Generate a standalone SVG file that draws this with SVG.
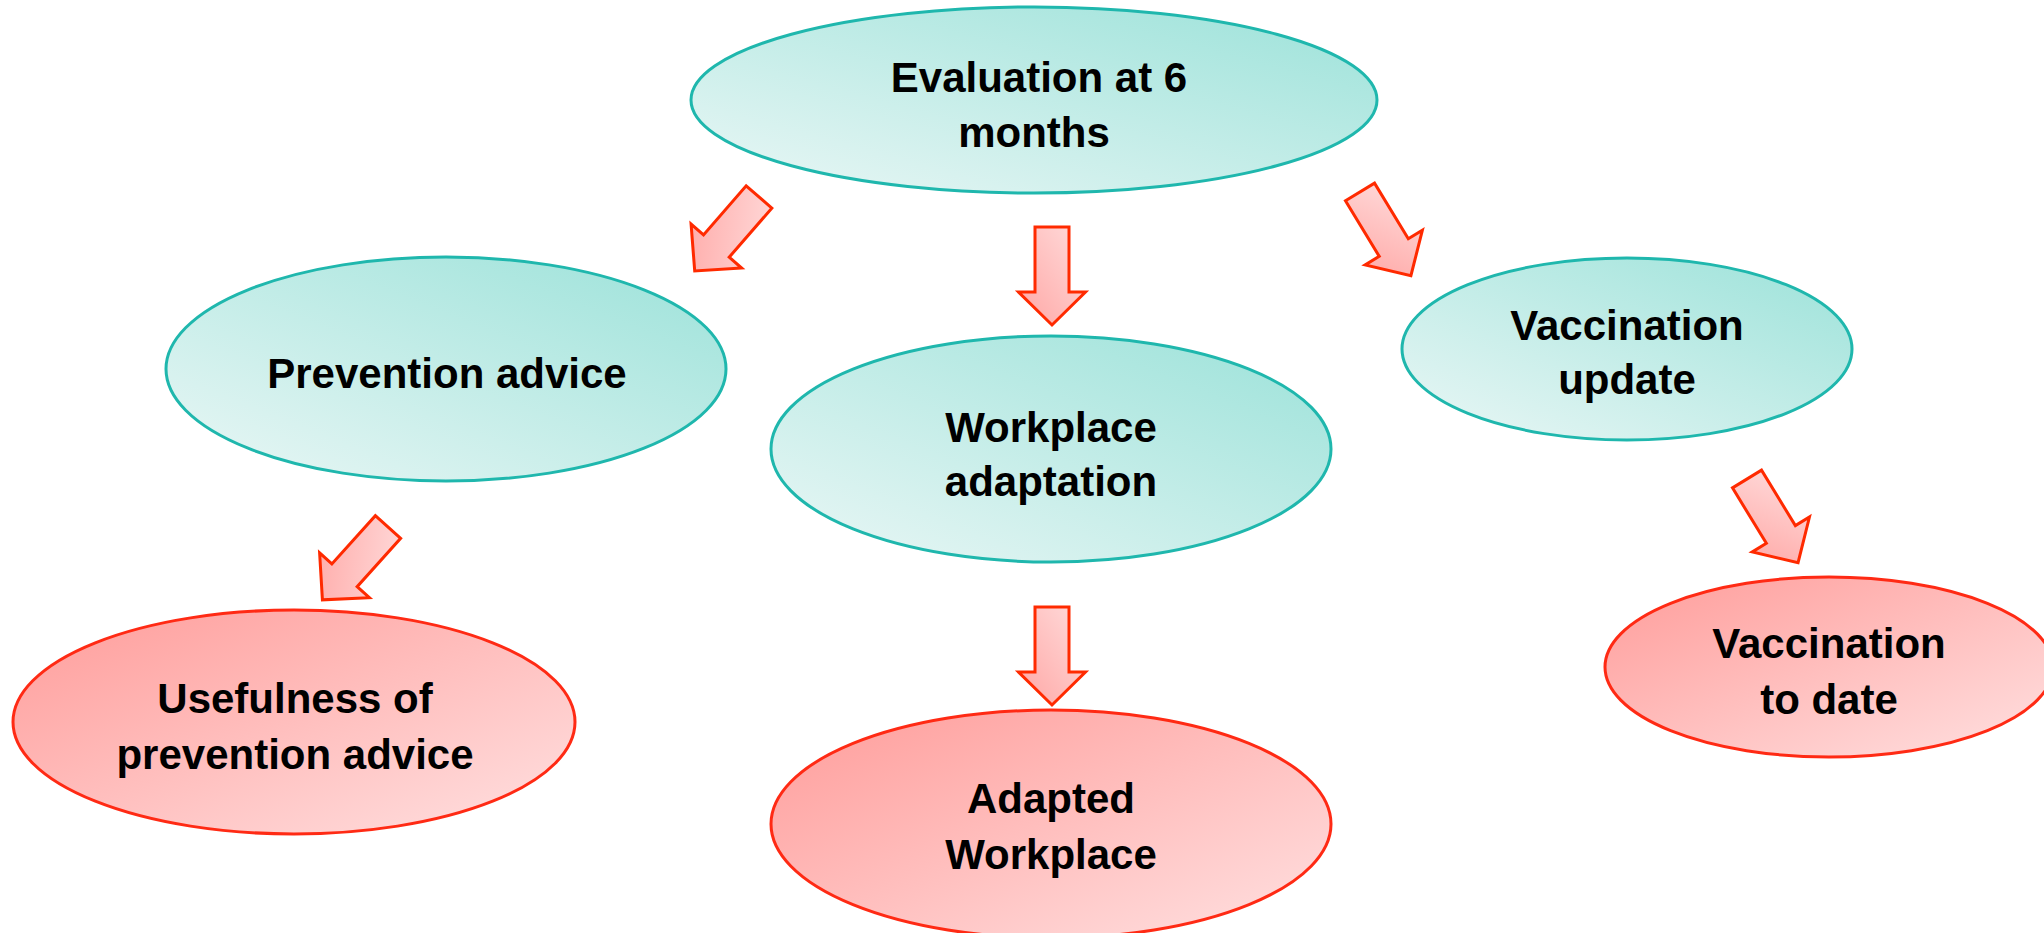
<svg xmlns="http://www.w3.org/2000/svg" width="2044" height="933" viewBox="0 0 2044 933">
<defs>
<linearGradient id="gTeal" x1="0.1" y1="0.9" x2="0.9" y2="0.1">
<stop offset="0" stop-color="#e3f5f3"/>
<stop offset="1" stop-color="#a3e4dc"/>
</linearGradient>
<linearGradient id="gRed" x1="0.1" y1="0.1" x2="0.9" y2="0.9">
<stop offset="0" stop-color="#ffa3a1"/>
<stop offset="1" stop-color="#ffdada"/>
</linearGradient>
<linearGradient id="gArrow" x1="1" y1="0" x2="0" y2="1">
<stop offset="0" stop-color="#ffdcdc"/>
<stop offset="1" stop-color="#ffa6a4"/>
</linearGradient>
<polygon id="arrow" points="-17,0 17,0 17,65 33.5,65 0,98 -33.5,65 -17,65"/>
</defs>
<style>
.teal{fill:url(#gTeal);stroke:#1fb7ad;stroke-width:3}
.red{fill:url(#gRed);stroke:#ff2a14;stroke-width:3}
.arr{fill:url(#gArrow);stroke:#ff2a00;stroke-width:3;stroke-linejoin:miter}
text{font-family:"Liberation Sans",Arial,sans-serif;font-weight:bold;font-size:42px;fill:#000;text-anchor:middle}
</style>
<rect width="2044" height="933" fill="#fff"/>
<g id="connectors">
<use href="#arrow" class="arr" transform="translate(1052,227)"/>
<use href="#arrow" class="arr" transform="translate(1052,607)"/>
<use href="#arrow" class="arr" transform="translate(759,197) rotate(41)"/>
<use href="#arrow" class="arr" transform="translate(1360,192) rotate(-31.3)"/>
<use href="#arrow" class="arr" transform="translate(388,527) rotate(42)"/>
<use href="#arrow" class="arr" transform="translate(1747,479) rotate(-31.4)"/>
</g>
<g id="evaluation">
<ellipse class="teal" cx="1034" cy="100" rx="343" ry="93"/>
<text x="1039" y="92">Evaluation at 6</text>
<text x="1034" y="147">months</text>
</g>
<g id="prevention">
<ellipse class="teal" cx="446" cy="369" rx="280" ry="112"/>
<text x="447" y="388">Prevention advice</text>
</g>
<g id="workplace">
<ellipse class="teal" cx="1051" cy="449" rx="280" ry="113"/>
<text x="1051" y="442">Workplace</text>
<text x="1051" y="496">adaptation</text>
</g>
<g id="vaccination-update">
<ellipse class="teal" cx="1627" cy="349" rx="225" ry="91"/>
<text x="1627" y="340">Vaccination</text>
<text x="1627" y="394">update</text>
</g>
<g id="usefulness">
<ellipse class="red" cx="294" cy="722" rx="281" ry="112"/>
<text x="295" y="713">Usefulness of</text>
<text x="295" y="769">prevention advice</text>
</g>
<g id="adapted">
<ellipse class="red" cx="1051" cy="824" rx="280" ry="114"/>
<text x="1051" y="813">Adapted</text>
<text x="1051" y="869">Workplace</text>
</g>
<g id="vaccination-date">
<ellipse class="red" cx="1829" cy="667" rx="224" ry="90"/>
<text x="1829" y="658">Vaccination</text>
<text x="1829" y="714">to date</text>
</g>
</svg>
